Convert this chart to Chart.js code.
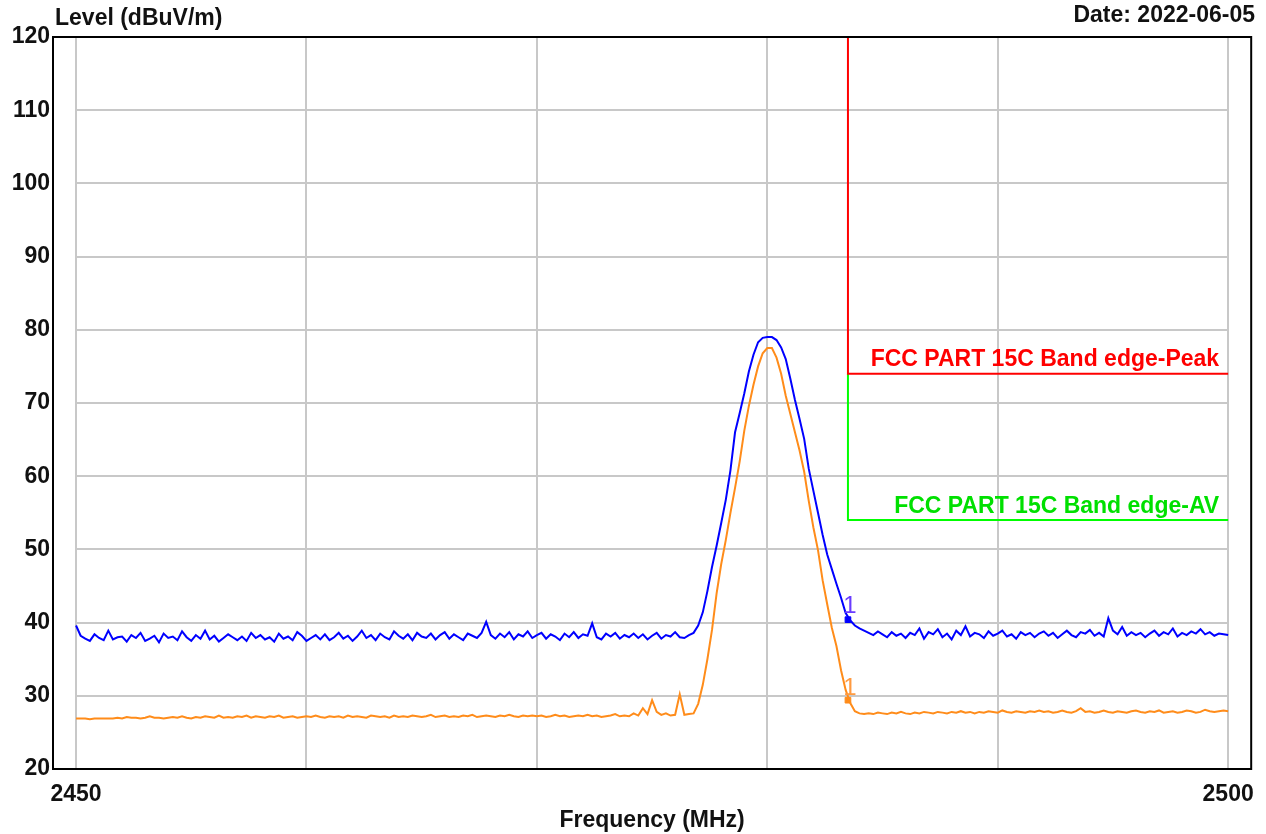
<!DOCTYPE html>
<html lang="en">
<head>
  <meta charset="UTF-8" />
  <title>Band edge - Level (dBuV/m)</title>
  <script src="https://cdn.jsdelivr.net/npm/chart.js@4.4.8/dist/chart.umd.min.js"></script>
  <style>
    html, body { margin: 0; padding: 0; background: #fff; }
    #wrap { width: 1266px; height: 834px; }
  </style>
</head>
<body>
  <div id="wrap"><canvas id="bandEdge" width="1266" height="834"></canvas></div>

  <script>
    // sweep: 2450 - 2500 MHz, 0.2 MHz per point
    const START_MHZ = 2450;
    const STEP_MHZ = 0.2;

    // peak detector trace (blue), dBuV/m
    const peakLevel = [
      39.6, 38.2, 37.8, 37.5, 38.4, 37.9, 37.6, 38.9, 37.7, 38.0, 38.1, 37.4, 38.3, 37.9, 38.6, 37.5, 37.8, 38.2, 37.3, 38.5,
      37.9, 38.1, 37.6, 38.8, 38.0, 37.5, 38.3, 37.8, 38.9, 37.7, 38.2, 37.4, 37.9, 38.4, 38.0, 37.6, 38.1, 37.5, 38.6, 37.9,
      38.3, 37.7, 38.0, 37.4, 38.5, 37.8, 38.1, 37.6, 38.7, 38.2, 37.5, 37.9, 38.3, 37.7, 38.4, 37.6, 38.0, 38.6, 37.8, 38.2,
      37.5, 38.1, 38.9, 37.9, 38.3, 37.6, 38.5, 38.0, 37.7, 38.8, 38.2, 37.8, 38.4, 37.6, 38.6, 38.1, 37.9, 38.5, 37.7, 38.3,
      38.7, 37.8, 38.4, 38.0, 37.6, 38.5, 38.2, 37.9, 38.6, 40.1, 38.3, 37.8, 38.5, 38.0, 38.7, 37.7, 38.4, 38.1, 38.8, 37.9,
      38.3, 38.6, 37.8, 38.4, 38.1, 37.6, 38.5, 38.0, 38.7, 37.9, 38.4, 38.2, 39.9, 38.0, 37.7, 38.5, 38.1, 38.6, 37.8, 38.3,
      38.0, 38.5, 37.9, 38.4, 37.7, 38.2, 38.6, 37.8, 38.3, 38.1, 38.7, 38.0, 37.9, 38.3,
      38.6, 39.6, 41.4, 44.3, 47.6, 50.5, 53.6, 56.8, 60.8, 66.0, 68.6, 71.3, 74.3, 76.6, 78.3, 78.9, 79.0, 79.0,
      78.6, 77.6, 76.0, 73.3, 70.4, 67.8, 65.1, 61.0, 58.0, 55.0, 52.0, 49.3, 47.3, 45.3, 43.4, 41.3, 40.3, 39.6,
      39.2, 38.9, 38.6, 38.3, 38.8, 38.4, 38.0, 38.7, 38.2, 38.5, 37.9, 38.6, 38.3, 39.2, 37.8, 38.7, 38.4, 39.1, 38.0, 38.5,
      37.7, 38.9, 38.3, 39.5, 38.1, 38.6, 38.4, 37.9, 38.8, 38.2, 38.5, 38.9, 38.1, 38.4, 37.8, 38.7, 38.3, 38.6, 38.0, 38.5,
      38.8, 38.2, 38.6, 37.9, 38.4, 38.9, 38.3, 38.0, 38.7, 38.5, 39.0, 38.2, 38.6, 38.1, 40.6, 38.9, 38.4, 39.4, 38.2, 38.7,
      38.3, 38.6, 38.0, 38.5, 38.9, 38.2, 38.7, 38.4, 39.2, 38.1, 38.6, 38.3, 38.8, 38.5, 39.1, 38.4, 38.7, 38.2, 38.5, 38.4, 38.3
    ];

    // average detector trace (orange), dBuV/m
    const avgLevel = [
      26.9, 26.9, 26.9, 26.8, 26.9, 26.9, 26.9, 26.9, 26.9, 27.0, 26.9, 27.1, 27.0, 27.0, 26.9, 27.0, 27.2, 27.0, 27.0, 26.9,
      27.0, 27.1, 27.0, 27.2, 27.0, 26.9, 27.1, 27.0, 27.2, 27.1, 27.0, 27.3, 27.0, 27.1, 27.0, 27.2, 27.1, 27.3, 27.0, 27.2,
      27.1, 27.0, 27.2, 27.1, 27.3, 27.0, 27.1, 27.2, 27.0, 27.1, 27.2, 27.1, 27.3, 27.1, 27.0, 27.2, 27.1, 27.2, 27.0, 27.3,
      27.1, 27.2, 27.1, 27.0, 27.3, 27.2, 27.1, 27.2, 27.0, 27.3, 27.1, 27.2, 27.1, 27.3, 27.2, 27.1, 27.2, 27.4, 27.1, 27.2,
      27.3, 27.1, 27.2, 27.1, 27.3, 27.2, 27.4, 27.1, 27.2, 27.3, 27.2, 27.1, 27.3, 27.2, 27.4, 27.2, 27.1, 27.3, 27.2, 27.3,
      27.2, 27.3, 27.1, 27.2, 27.4, 27.2, 27.3, 27.1, 27.2, 27.3, 27.2, 27.4, 27.2, 27.3, 27.1, 27.2, 27.3, 27.5, 27.2, 27.3,
      27.2, 27.6, 27.3, 28.3, 27.5, 29.4, 27.8, 27.4, 27.6, 27.3, 27.4, 30.2, 27.4, 27.5,
      27.6, 28.9, 31.5, 35.0, 39.0, 44.0, 48.0, 51.3, 55.0, 58.4, 62.0, 66.2, 69.6, 72.5, 75.0, 76.8, 77.5, 77.5,
      76.2, 74.0, 71.0, 68.5, 66.0, 63.5, 60.6, 56.6, 53.0, 49.9, 45.8, 42.5, 39.3, 36.8, 33.5, 30.8, 29.0, 27.9,
      27.6, 27.5, 27.6, 27.5, 27.7, 27.6, 27.5, 27.7, 27.6, 27.8, 27.6, 27.5, 27.7, 27.6, 27.8, 27.7, 27.6, 27.8, 27.7, 27.6,
      27.8, 27.7, 27.9, 27.7, 27.8, 27.6, 27.8, 27.7, 27.9, 27.8, 27.7, 28.0, 27.8, 27.7, 27.9, 27.8, 27.7, 27.9, 27.8, 28.0,
      27.8, 27.9, 27.7, 27.8, 28.0, 27.8, 27.7, 27.9, 28.3, 27.8, 27.9, 27.7, 27.8, 28.0, 27.8, 27.7, 27.9, 27.8, 27.7, 27.9,
      28.0, 27.8, 27.7, 27.9, 27.8, 28.0, 27.7, 27.8, 27.9, 27.7, 27.8, 28.0, 27.9, 27.7, 27.8, 28.1, 27.9, 27.8, 27.9, 28.0, 27.9
    ];

    // FCC part 15C band edge limits
    const limitFreq = [2483.5, 2500];
    const peakLimit = 74;
    const avLimit = 54;

    // marker "1" at the band edge
    const markerFreq = [2483.5];
    const markerPeak = [40.4];
    const markerAvg = [29.4];

    const xGridTicks = [2450, 2460, 2470, 2480, 2490, 2500];
    const xLabelTicks = [2450, 2500];
    const yTicks = [20, 30, 40, 50, 60, 70, 80, 90, 100, 110, 120];

    const FONT = "'Liberation Sans', Arial, sans-serif";

    const toPoints = arr => arr.map((v, i) => ({ x: START_MHZ + i * STEP_MHZ, y: v }));
    const limitPoints = (from, lvl) => [
      { x: limitFreq[0], y: from },
      { x: limitFreq[0], y: lvl },
      { x: limitFreq[1], y: lvl }
    ];

    // grid only covers 2450..2500 / 20..120, frame is the whole plot box
    const gridFrame = {
      id: 'gridFrame',
      beforeDatasetsDraw(chart) {
        const { ctx, chartArea: a, scales: { x, y } } = chart;
        ctx.save();
        ctx.strokeStyle = '#c8c8c8';
        ctx.lineWidth = 2;
        const x0 = x.getPixelForValue(xGridTicks[0]);
        const x1 = x.getPixelForValue(xGridTicks[xGridTicks.length - 1]);
        yTicks.forEach(v => {
          const py = Math.round(y.getPixelForValue(v));
          ctx.beginPath(); ctx.moveTo(x0, py); ctx.lineTo(x1, py); ctx.stroke();
        });
        xGridTicks.forEach(v => {
          const px = Math.round(x.getPixelForValue(v));
          ctx.beginPath(); ctx.moveTo(px, a.top); ctx.lineTo(px, a.bottom); ctx.stroke();
        });
        ctx.restore();
      },
      afterDatasetsDraw(chart) {
        const { ctx, chartArea: a, scales: { x, y } } = chart;
        ctx.save();
        ctx.strokeStyle = '#000';
        ctx.lineWidth = 2;
        ctx.strokeRect(a.left, a.top, a.right - a.left, a.bottom - a.top);

        // limit line captions
        ctx.font = 'bold 23px ' + FONT;
        ctx.textAlign = 'right';
        ctx.textBaseline = 'alphabetic';
        const rx = x.getPixelForValue(limitFreq[1]) - 9;
        ctx.fillStyle = '#ff0000';
        ctx.fillText('FCC PART 15C Band edge-Peak', rx, y.getPixelForValue(peakLimit) - 8);
        ctx.fillStyle = '#00e000';
        ctx.fillText('FCC PART 15C Band edge-AV', rx, y.getPixelForValue(avLimit) - 7);

        // marker labels
        ctx.font = '24px ' + FONT;
        ctx.textAlign = 'center';
        const mx = x.getPixelForValue(markerFreq[0]) + 2;
        ctx.fillStyle = '#6a3cff';
        ctx.fillText('1', mx, y.getPixelForValue(markerPeak[0]) - 7);
        ctx.fillStyle = '#ff9a40';
        ctx.fillText('1', mx, y.getPixelForValue(markerAvg[0]) - 5);

        // titles
        ctx.fillStyle = '#111';
        ctx.font = 'bold 23px ' + FONT;
        ctx.textBaseline = 'middle';
        ctx.textAlign = 'left';
        ctx.fillText('Level (dBuV/m)', 55, 19);
        ctx.textAlign = 'right';
        ctx.fillText('Date: 2022-06-05', 1255, 16);
        ctx.textAlign = 'center';
        ctx.fillText('Frequency (MHz)', (x.getPixelForValue(2450) + x.getPixelForValue(2500)) / 2, 821);
        ctx.restore();
      }
    };

    new Chart(document.getElementById('bandEdge'), {
      type: 'line',
      data: {
        datasets: [
          {
            label: 'Peak',
            data: toPoints(peakLevel),
            borderColor: '#0000ff',
            borderWidth: 2,
            pointRadius: 0,
            tension: 0
          },
          {
            label: 'AV',
            data: toPoints(avgLevel),
            borderColor: '#ff8c1a',
            borderWidth: 2,
            pointRadius: 0,
            tension: 0
          },
          {
            label: 'FCC PART 15C Band edge-Peak',
            data: limitPoints(120, peakLimit),
            borderColor: '#ff0000',
            borderWidth: 2,
            pointRadius: 0,
            tension: 0
          },
          {
            label: 'FCC PART 15C Band edge-AV',
            data: limitPoints(peakLimit, avLimit),
            borderColor: '#00ff00',
            borderWidth: 2,
            pointRadius: 0,
            tension: 0
          },
          {
            label: 'Marker peak',
            data: markerFreq.map((f, i) => ({ x: f, y: markerPeak[i] })),
            showLine: false,
            pointStyle: 'rect',
            pointRadius: 4,
            backgroundColor: '#0000ff',
            borderColor: '#0000ff'
          },
          {
            label: 'Marker AV',
            data: markerFreq.map((f, i) => ({ x: f, y: markerAvg[i] })),
            showLine: false,
            pointStyle: 'rect',
            pointRadius: 4,
            backgroundColor: '#ff8c1a',
            borderColor: '#ff8c1a'
          }
        ]
      },
      options: {
        responsive: false,
        animation: false,
        devicePixelRatio: 1,
        layout: { padding: { top: 37, right: 14, left: 0, bottom: 0 } },
        plugins: {
          legend: { display: false },
          tooltip: { enabled: false }
        },
        scales: {
          x: {
            type: 'linear',
            min: 2449,
            max: 2501,
            grid: { display: false, drawTicks: false },
            border: { display: false },
            afterBuildTicks: scale => { scale.ticks = xLabelTicks.map(v => ({ value: v })); },
            afterFit: scale => { scale.height = 65; },
            ticks: {
              padding: 12,
              maxRotation: 0,
              autoSkip: false,
              color: '#111',
              callback: v => String(v),
              font: { family: FONT, size: 23, weight: 'bold' }
            }
          },
          y: {
            min: 20,
            max: 120,
            grid: { display: false, drawTicks: false },
            border: { display: false },
            afterBuildTicks: scale => { scale.ticks = yTicks.map(v => ({ value: v })); },
            afterFit: scale => { scale.width = 53; },
            ticks: {
              padding: 3,
              color: '#111',
              font: { family: FONT, size: 23, weight: 'bold' }
            }
          }
        }
      },
      plugins: [gridFrame]
    });
  </script>
</body>
</html>
